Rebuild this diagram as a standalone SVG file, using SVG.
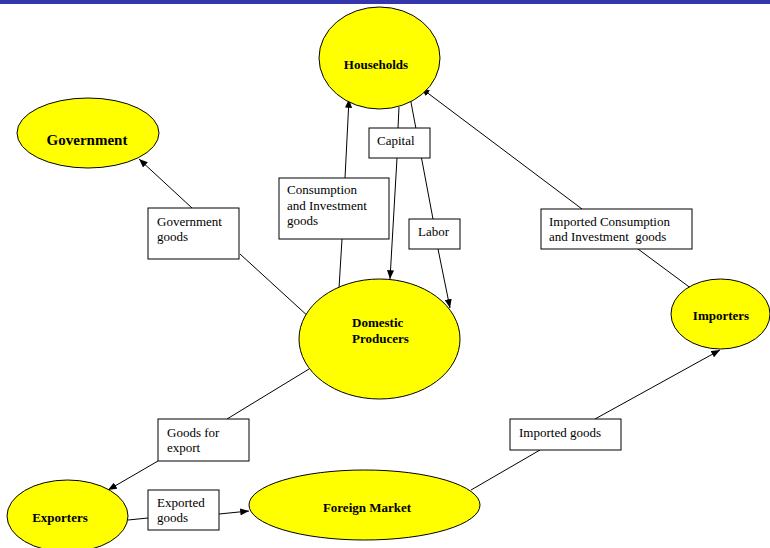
<svg xmlns="http://www.w3.org/2000/svg" width="770" height="548" viewBox="0 0 770 548">
<style>
.node ellipse{fill:#FFFF00;stroke:#000;stroke-width:1}
.node text{font-family:"Liberation Serif","Times New Roman",serif;font-weight:bold;font-size:13px;fill:#000}
.lbl rect{fill:#fff;stroke:#000;stroke-width:1}
.lbl text{font-family:"Liberation Serif","Times New Roman",serif;font-size:13px;fill:#000}
.edge{stroke:#000;stroke-width:1;fill:none}
</style>
<defs>
<marker id="ah" viewBox="0 0 10 8" refX="10" refY="4" markerWidth="9" markerHeight="7" markerUnits="userSpaceOnUse" orient="auto">
<path d="M0,0 L10,4 L0,8 Z" fill="#000"/>
</marker>
</defs>
<rect x="0" y="0" width="770" height="4" fill="#3535AD"/>
<g id="connectors">
<line class="edge" x1="192" y1="208" x2="139" y2="159" marker-end="url(#ah)"/>
<line class="edge" x1="240" y1="254" x2="310" y2="318"/>
<line class="edge" x1="339" y1="288" x2="342" y2="239"/>
<line class="edge" x1="345" y1="178" x2="349" y2="99" marker-end="url(#ah)"/>
<line class="edge" x1="399" y1="107" x2="398" y2="128"/>
<line class="edge" x1="397" y1="158" x2="390" y2="279" marker-end="url(#ah)"/>
<line class="edge" x1="410" y1="97" x2="433" y2="219"/>
<line class="edge" x1="438" y1="249" x2="450" y2="308" marker-end="url(#ah)"/>
<line class="edge" x1="582" y1="209" x2="421" y2="88" marker-end="url(#ah)"/>
<line class="edge" x1="638" y1="249" x2="692" y2="289"/>
<line class="edge" x1="471" y1="490" x2="540" y2="450"/>
<line class="edge" x1="595" y1="419" x2="720" y2="350" marker-end="url(#ah)"/>
<line class="edge" x1="309" y1="369" x2="227" y2="419"/>
<line class="edge" x1="158" y1="461" x2="108" y2="490" marker-end="url(#ah)"/>
<line class="edge" x1="128" y1="520" x2="148" y2="518"/>
<line class="edge" x1="219" y1="514" x2="249" y2="511" marker-end="url(#ah)"/>
</g>
<g id="households" class="node">
<ellipse cx="379.5" cy="58" rx="60.5" ry="51"/>
<text x="376" y="69" text-anchor="middle">Households</text>
</g>
<g id="government" class="node">
<ellipse cx="88" cy="133" rx="71" ry="35"/>
<text x="87" y="145" text-anchor="middle" style="font-size:15px">Government</text>
</g>
<g id="domestic-producers" class="node">
<ellipse cx="379.5" cy="339" rx="80.5" ry="60"/>
<text x="352" y="327">Domestic</text>
<text x="352" y="343">Producers</text>
</g>
<g id="importers" class="node">
<ellipse cx="720.5" cy="314" rx="49.5" ry="35"/>
<text x="721" y="320" text-anchor="middle">Importers</text>
</g>
<g id="foreign-market" class="node">
<ellipse cx="364.5" cy="505" rx="115.5" ry="35"/>
<text x="367" y="512" text-anchor="middle">Foreign Market</text>
</g>
<g id="exporters" class="node">
<ellipse cx="67.5" cy="516" rx="60.5" ry="36"/>
<text x="60" y="522" text-anchor="middle">Exporters</text>
</g>
<g id="lbl-government-goods" class="lbl">
<rect x="148" y="208" width="91" height="51"/>
<text x="157" y="226">Government</text>
<text x="157" y="241">goods</text>
</g>
<g id="lbl-consumption" class="lbl">
<rect x="279" y="178" width="110" height="61"/>
<text x="287" y="194">Consumption</text>
<text x="287" y="210">and Investment</text>
<text x="287" y="225">goods</text>
</g>
<g id="lbl-capital" class="lbl">
<rect x="369" y="128" width="61" height="30"/>
<text x="377" y="145">Capital</text>
</g>
<g id="lbl-labor" class="lbl">
<rect x="409" y="219" width="51" height="30"/>
<text x="418" y="236">Labor</text>
</g>
<g id="lbl-imported-consumption" class="lbl">
<rect x="541" y="209" width="151" height="40"/>
<text x="549" y="226">Imported Consumption</text>
<text x="549" y="241" xml:space="preserve">and Investment  goods</text>
</g>
<g id="lbl-imported-goods" class="lbl">
<rect x="510" y="419" width="111" height="31"/>
<text x="519" y="437">Imported goods</text>
</g>
<g id="lbl-goods-for-export" class="lbl">
<rect x="158" y="419" width="91" height="42"/>
<text x="167" y="437">Goods for</text>
<text x="167" y="452">export</text>
</g>
<g id="lbl-exported-goods" class="lbl">
<rect x="148" y="490" width="71" height="40"/>
<text x="157" y="507">Exported</text>
<text x="157" y="522">goods</text>
</g>
</svg>
